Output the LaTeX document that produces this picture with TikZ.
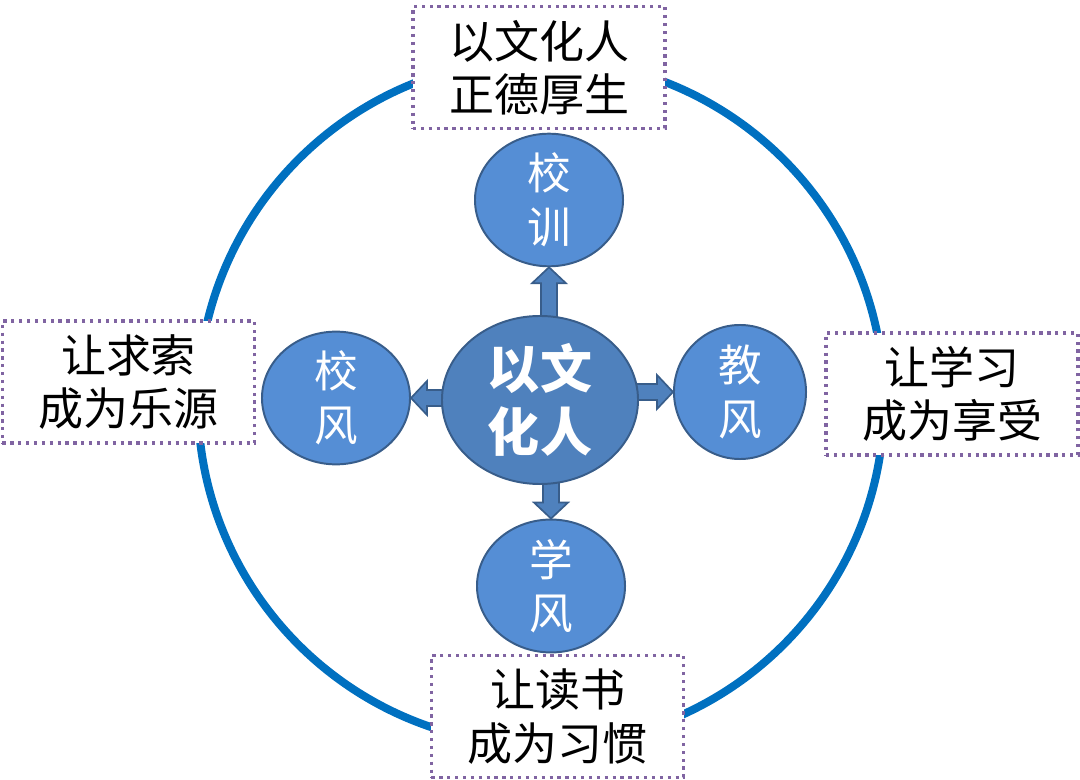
\documentclass[tikz,border=0pt]{standalone}
\usepackage{fontspec}
\setmainfont{Noto Sans CJK SC}
\usepackage{xcolor}
\usepackage{tikz}
\usetikzlibrary{shapes.geometric,calc,backgrounds}

\definecolor{ringblue}{RGB}{0,112,192}
\definecolor{ballblue}{RGB}{85,142,213}
\definecolor{coreblue}{RGB}{79,129,189}
\definecolor{edgeblue}{RGB}{56,93,138}
\definecolor{dotpurple}{RGB}{128,100,162}

\newcommand{\fatarrow}[2]{%
  \coordinate (fa-h) at ($(#2)!11.4pt!(#1)$);
  \filldraw[fat] ($(#1)!5.7pt!90:(fa-h)$) -- ($(fa-h)!5.7pt!-90:(#1)$)
    -- ($(fa-h)!12.1pt!-90:(#1)$) -- (#2) -- ($(fa-h)!12.1pt!90:(#1)$)
    -- ($(fa-h)!5.7pt!90:(#1)$) -- ($(#1)!5.7pt!-90:(fa-h)$) -- cycle;}

\begin{document}
\begin{tikzpicture}[x=0.025cm, y=-0.025cm,
  ring/.style={draw=ringblue, line width=5.7pt},
  tag/.style={draw=dotpurple, line width=2.3pt, dash pattern=on 2.3pt off 3.3pt,
              fill=white, minimum width=6.3cm, minimum height=3.05cm,
              align=center, font=\fontsize{32}{38}\selectfont},
  ball/.style={ellipse, draw=edgeblue, line width=1.4pt, fill=ballblue,
               minimum width=3.7cm, minimum height=3.3cm, inner sep=0pt,
               align=center, text=white, font=\fontsize{31}{38}\selectfont},
  core/.style={ball, fill=coreblue, minimum width=4.9cm, minimum height=4.2cm,
               font=\fontsize{37}{45}\selectfont\bfseries},
  fat/.style={fill=coreblue, draw=edgeblue, line width=1.2pt}
]
\useasboundingbox (0,0) rectangle (1080,780);
\node[core] (core) at (540,400) {以文\\化人};
\node[ball] (xun) at (549,200) {校\\训};
\node[ball, minimum height=3.25cm] (xf) at (336,398) {校\\风};
\node[ball, minimum width=3.3cm, minimum height=3.35cm] (jf) at (740,392) {教\\风};
\node[ball] (xue) at (551,586) {学\\风};
\node[tag] (motto) at (539,67.5) {以文化人\\正德厚生};
\node[tag] (qiu) at (128.5,382) {让求索\\成为乐源};
\node[tag] (xi) at (952,394) {让学习\\成为享受};
\node[tag] (du) at (557.5,716.5) {让读书\\成为习惯};
\begin{scope}[on background layer]
\draw[ring] (541,402) circle[radius=8.575cm];
\fatarrow{core.center -| xun.south}{xun.south}
\fatarrow{core.center |- xf.east}{xf.east}
\fatarrow{core.center |- jf.west}{jf.west}
\fatarrow{core.center -| xue.north}{xue.north}
\end{scope}
\end{tikzpicture}
\end{document}
